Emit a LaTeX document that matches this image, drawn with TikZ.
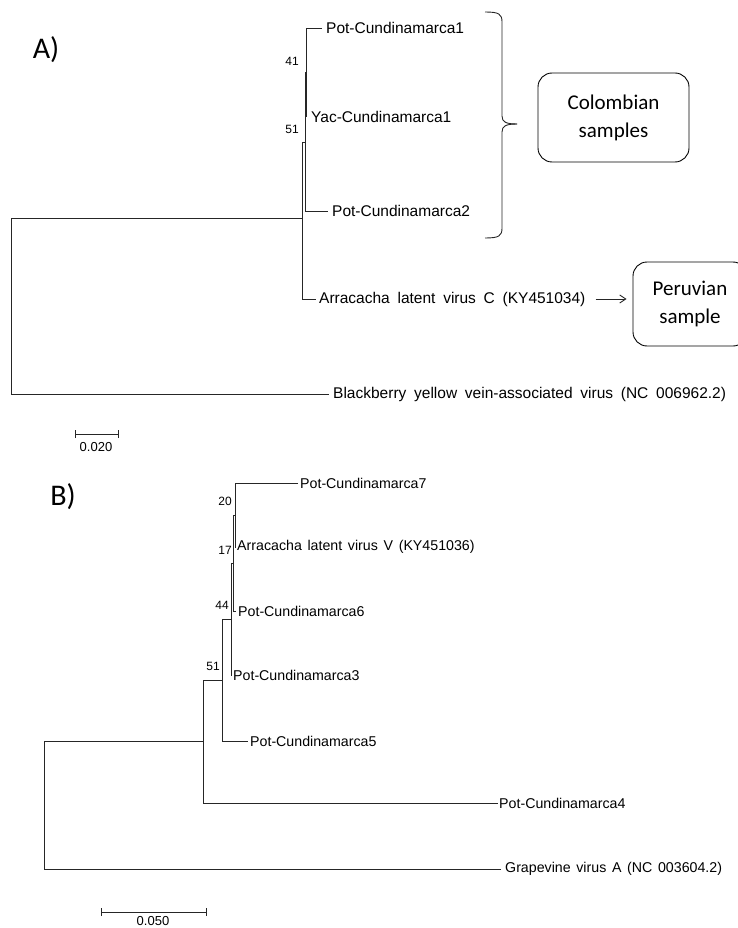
\documentclass[tikz,border=0pt]{standalone}
\usepackage{fontspec}
\setmainfont{Liberation Sans}
\newfontfamily\boxfont{Carlito}
\usetikzlibrary{arrows.meta}
\newcommand{\tfA}{\fontsize{15.5}{17}\selectfont\spaceskip=0.5em\relax}
\newcommand{\tfB}{\fontsize{14.2}{16}\selectfont\spaceskip=0.4em\relax}
\begin{document}
\begin{tikzpicture}[x=1pt,y=-1pt,
  br/.style={line width=0.9pt, draw=black!85},
  lblA/.style={anchor=west, inner sep=0pt, font=\tfA},
  lblB/.style={anchor=west, inner sep=0pt, font=\tfB},
  bs/.style={anchor=east, inner sep=0pt, font=\fontsize{12}{13}\selectfont},
  sbar/.style={inner sep=0pt, font=\fontsize{13}{14}\selectfont},
  panel/.style={inner sep=0pt, font=\boxfont\fontsize{30}{31}\selectfont},
  samplebox/.style={draw=black, line width=0.9pt, rounded corners=14pt, align=center,
    inner sep=0pt, font=\boxfont\fontsize{21}{28}\selectfont}
]
\useasboundingbox (0,0) rectangle (738,928);
\clip (0,0) rectangle (738,928);

% ---------- Panel A ----------
\node[panel] (pa) at (46,50) {A)};

\node[lblA] (p1) at (326,28) {Pot-Cundinamarca1};
\node[lblA] (yac) at (311,117) {Yac-Cundinamarca1};
\node[lblA] (p2) at (332,211) {Pot-Cundinamarca2};
\node[lblA] (arrC) at (319,299) {Arracacha latent virus C (KY451034)};
\node[lblA] (bb) at (333,394) {Blackberry yellow vein-associated virus (NC 006962.2)};

\coordinate (a41) at (306.5,72.5);
\coordinate (a51) at (305,142);
\coordinate (aC) at (302,218);
\coordinate (aR) at (11,307);

\draw[br] ([xshift=-4pt]p1.west) -| (a41 |- yac);
\draw[br] (a41) -| (a51 |- p2) -- ([xshift=-4pt]p2.west);
\draw[br] (a51) -| (aC |- arrC) -- ([xshift=-3pt]arrC.west);
\draw[br] (aC) -| (aR |- bb) -- ([xshift=-4pt]bb.west);

\node[bs] (n41) at (299,61) {41};
\node[bs] (n51a) at (299,129) {51};

% brace
\draw[br] (485,12) .. controls (499,12) and (502,14) .. (502,22) -- (502,116)
  .. controls (502,122) and (506,124) .. (517,124);
\draw[br] (517,124) .. controls (506,124) and (502,126) .. (502,132) -- (502,228)
  .. controls (502,236) and (499,238) .. (485,238);

\node[samplebox, minimum width=151pt, minimum height=89pt] (col) at (613.5,117.5) {Colombian\\samples};
\node[samplebox, minimum width=114pt, minimum height=84pt] (peru) at (690,304) {Peruvian\\sample};

\draw[br, -{Straight Barb[length=6pt,width=8pt]}, shorten >=6pt]
  ([xshift=10pt]arrC.east) -- (arrC.east -| peru.west);

% scale bar A
\coordinate (sa1) at (75,434);
\coordinate (sa2) at (118,434);
\draw[br] (sa1) -- (sa2);
\draw[br] ([yshift=-4pt]sa1) -- ([yshift=4pt]sa1);
\draw[br] ([yshift=-4pt]sa2) -- ([yshift=4pt]sa2);
\node[sbar] (sal) at (96,447) {0.020};

% ---------- Panel B ----------
\node[panel] (pb) at (63,497) {B)};

\node[lblB] (p7) at (300,483) {Pot-Cundinamarca7};
\node[lblB] (arrV) at (237,547) {Arracacha latent virus V (KY451036)};
\node[lblB] (p6) at (238,611) {Pot-Cundinamarca6};
\node[lblB] (p3) at (233,675) {Pot-Cundinamarca3};
\node[lblB] (p5) at (250,741) {Pot-Cundinamarca5};
\node[lblB] (p4) at (499,803) {Pot-Cundinamarca4};
\node[lblB] (gv) at (505,869) {Grapevine virus A (NC 003604.2)};

\coordinate (b20) at (235,515);
\coordinate (b17) at (233,563);
\coordinate (b44) at (231,619);
\coordinate (b51) at (222,680);
\coordinate (bX) at (203,741.5);
\coordinate (bR) at (44,805);

\draw[br] ([xshift=-2pt]p7.west) -| (b20 |- arrV) -- ([xshift=-1pt]arrV.west);
\draw[br] (b20) -| (b17 |- p6) -- ([xshift=-2pt]p6.west);
\draw[br] (b17) -| (b44 |- p3) -- ([xshift=-1pt]p3.west);
\draw[br] (b44) -| (b51 |- p5) -- ([xshift=-2pt]p5.west);
\draw[br] (b51) -| (bX |- p4) -- ([xshift=-1pt]p4.west);
\draw[br] (bX) -| (bR |- gv) -- ([xshift=-4pt]gv.west);

\node[bs] (n20) at (232,501) {20};
\node[bs] (n17) at (232,550) {17};
\node[bs] (n44) at (229,605) {44};
\node[bs] (n51b) at (220,666) {51};

% scale bar B
\coordinate (sb1) at (101,912);
\coordinate (sb2) at (206,912);
\draw[br] (sb1) -- (sb2);
\draw[br] ([yshift=-4pt]sb1) -- ([yshift=4pt]sb1);
\draw[br] ([yshift=-4pt]sb2) -- ([yshift=4pt]sb2);
\node[sbar] (sbl) at (153,921) {0.050};
\end{tikzpicture}
\end{document}
